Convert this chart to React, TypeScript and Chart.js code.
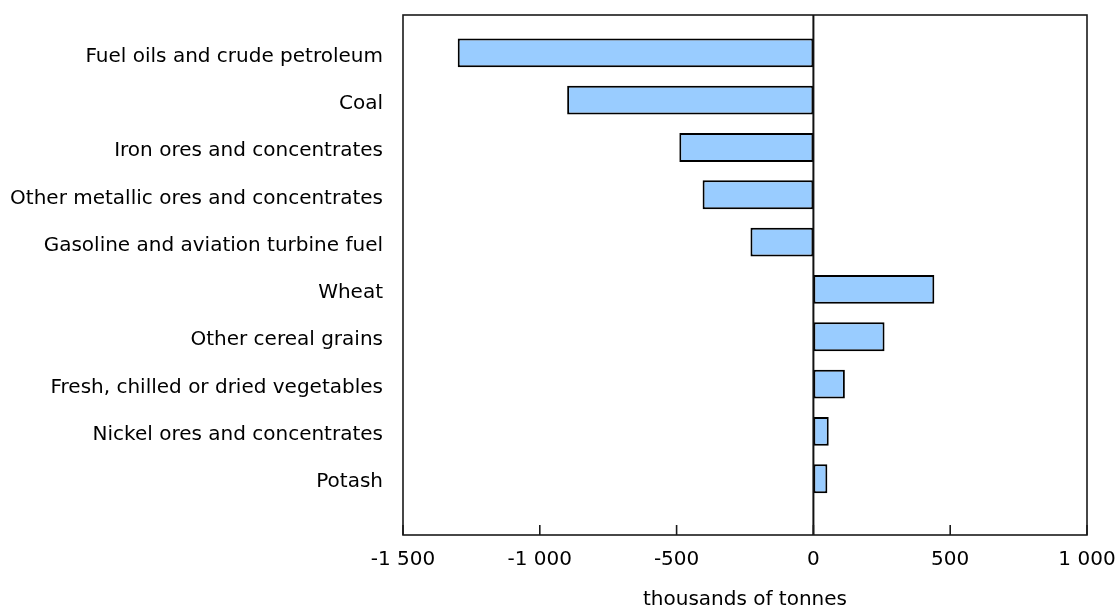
import React, { useEffect, useRef } from 'react';
import { Chart, registerables } from 'chart.js';

Chart.register(...registerables);

const categories = [
  'Fuel oils and crude petroleum',
  'Coal',
  'Iron ores and concentrates',
  'Other metallic ores and concentrates',
  'Gasoline and aviation turbine fuel',
  'Wheat',
  'Other cereal grains',
  'Fresh, chilled or dried vegetables',
  'Nickel ores and concentrates',
  'Potash',
];
const values = [-1300, -900, -490, -405, -230, 442, 260, 115, 56, 51];
const xTicks = [-1500, -1000, -500, 0, 500, 1000];
const axisTitle = 'thousands of tonnes';

const FONT = '"DejaVu Sans", Verdana, sans-serif';

function fmt(v: number): string {
  const s = Math.abs(v).toString().replace(/\B(?=(\d{3})+(?!\d))/g, ' ');
  return (v < 0 ? '-' : '') + s;
}

const framePlugin = {
  id: 'frame',
  afterDatasetsDraw(chart: any) {
    const { ctx, chartArea: a, scales } = chart;
    const x = scales.x;
    ctx.save();
    ctx.strokeStyle = '#1a1a1a';
    ctx.lineWidth = 1.6;
    ctx.strokeRect(a.left, a.top, a.right - a.left, a.bottom - a.top);
    const z = x.getPixelForValue(0);
    ctx.lineWidth = 2;
    ctx.strokeStyle = '#111';
    ctx.beginPath();
    ctx.moveTo(z, a.top);
    ctx.lineTo(z, a.bottom);
    ctx.stroke();
    ctx.lineWidth = 1.6;
    ctx.strokeStyle = '#1a1a1a';
    for (const v of xTicks) {
      const p = x.getPixelForValue(v);
      ctx.beginPath();
      ctx.moveTo(p, a.bottom - 10);
      ctx.lineTo(p, a.bottom);
      ctx.stroke();
    }
    ctx.restore();
  },
};

export default function App() {
  const ref = useRef<HTMLCanvasElement | null>(null);
  useEffect(() => {
    if (!ref.current) return;
    const chart = new Chart(ref.current, {
      type: 'bar',
      data: {
        datasets: [
          {
            data: values.map((v, i) => ({ x: v, y: i })),
            backgroundColor: '#99CCFF',
            borderColor: '#000000',
            borderWidth: 2,
            borderSkipped: false,
            categoryPercentage: 0.61,
            barPercentage: 1,
          } as any,
        ],
      },
      options: {
        indexAxis: 'y',
        animation: false,
        responsive: true,
        maintainAspectRatio: false,
        layout: { padding: { top: 15, right: 29, bottom: 0, left: 0 } },
        plugins: { legend: { display: false }, tooltip: { enabled: false } },
        scales: {
          x: {
            type: 'linear',
            position: 'bottom',
            min: -1500,
            max: 1000,
            offset: false,
            afterBuildTicks: (s: any) => {
              s.ticks = xTicks.map((v) => ({ value: v }));
            },
            afterFit: (s: any) => {
              s.height = 71;
            },
            grid: { display: false, drawTicks: true, tickLength: 13, color: 'rgba(0,0,0,0)' },
            border: { display: false },
            ticks: {
              padding: 0,
              color: '#000',
              autoSkip: false,
              maxRotation: 0,
              font: { family: FONT, size: 20 },
              callback: (v: any) => fmt(Number(v)),
            },
            title: {
              display: true,
              text: axisTitle,
              color: '#000',
              font: { family: FONT, size: 20 },
              padding: { top: 0, bottom: -6 },
            },
          },
          y: {
            type: 'linear',
            reverse: true,
            offset: false,
            min: -0.8,
            max: 10.19,
            afterBuildTicks: (s: any) => {
              s.ticks = categories.map((_, i) => ({ value: i }));
            },
            afterFit: (s: any) => {
              s.width = 403;
            },
            grid: { display: false, offset: false, drawTicks: true, tickLength: 20, color: 'rgba(0,0,0,0)' },
            border: { display: false },
            ticks: {
              padding: 0,
              labelOffset: 3.5,
              color: '#000',
              autoSkip: false,
              font: { family: FONT, size: 20 },
              callback: (v: any) => categories[Number(v)] ?? '',
            },
          },
        },
      } as any,
      plugins: [framePlugin],
    });
    return () => chart.destroy();
  }, []);
  return (
    <div style={{ position: 'fixed', left: 0, top: 0, width: 1116, height: 606, background: '#fff' }}>
      <canvas ref={ref} />
    </div>
  );
}
